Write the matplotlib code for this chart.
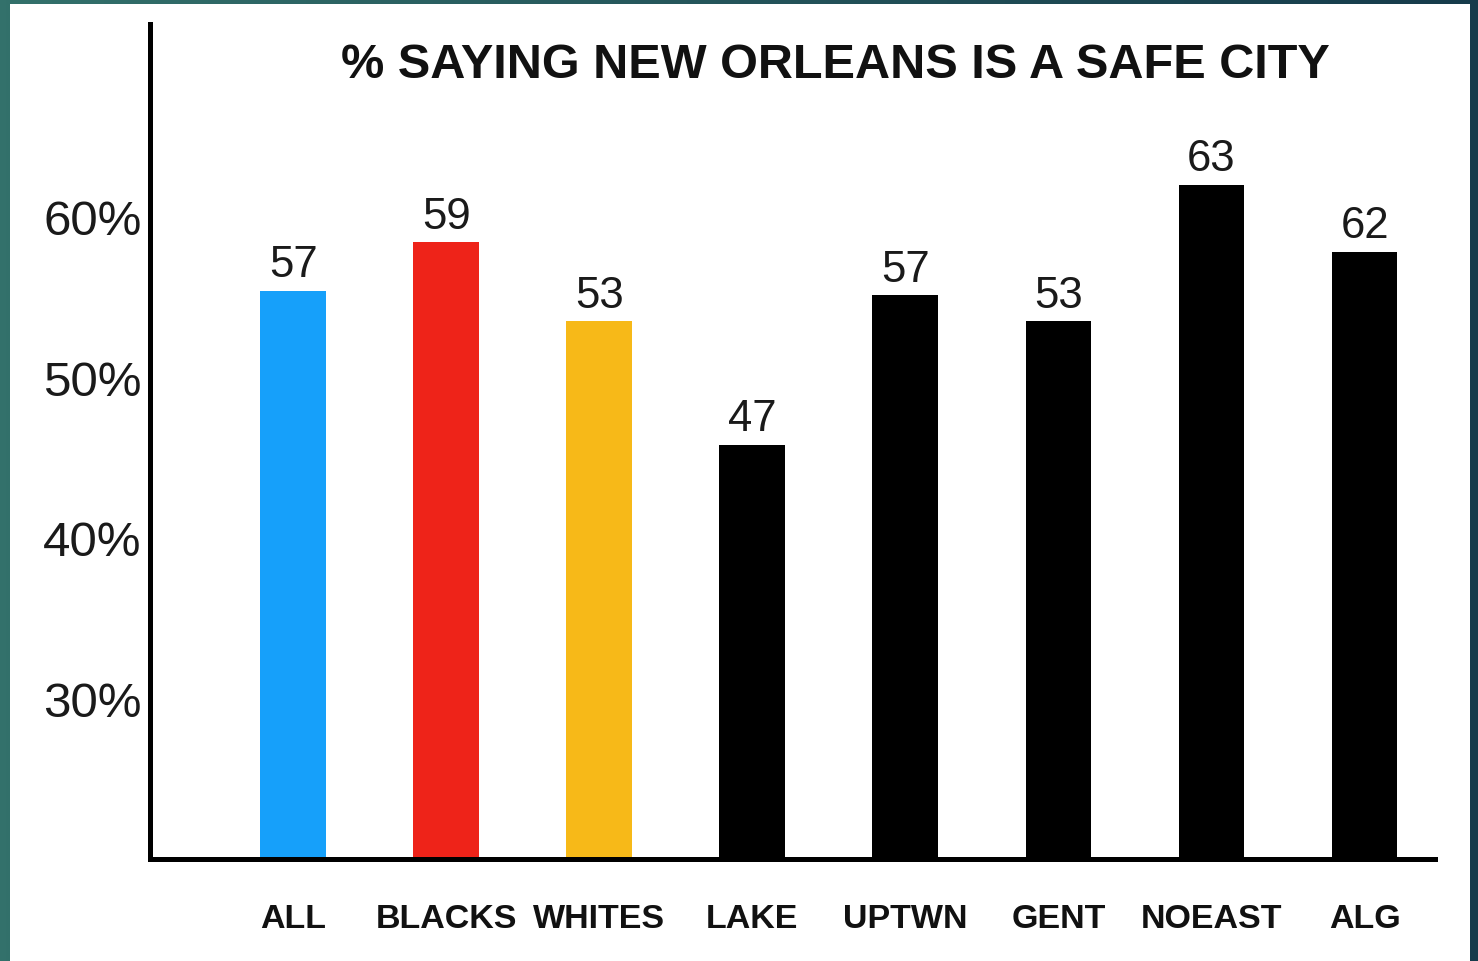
import numpy as np
import matplotlib
matplotlib.use("Agg")
import matplotlib.pyplot as plt
from matplotlib.patches import Rectangle

plt.rcParams['font.family'] = ['Liberation Sans', 'DejaVu Sans']

# data
categories = ['ALL', 'BLACKS', 'WHITES', 'LAKE', 'UPTWN', 'GENT', 'NOEAST', 'ALG']
bar_heights = [55.4, 58.4, 53.5, 45.8, 55.1, 53.5, 62.0, 57.8]   # heights as drawn
value_labels = ['57', '59', '53', '47', '57', '53', '63', '62']  # numbers printed on top
bar_colors = ['#16A0FA', '#EE2319', '#F7B918', '#000000', '#000000', '#000000', '#000000', '#000000']
y_ticks = [30, 40, 50, 60]
y_tick_labels = ['30%', '40%', '50%', '60%']
title = '% SAYING NEW ORLEANS IS A SAFE CITY'

W, H = 1478, 962
fig = plt.figure(figsize=(W / 100, H / 100), dpi=100)

# teal gradient frame behind the white slide
bg = fig.add_axes([0, 0, 1, 1], zorder=-10)
grad = np.linspace(0, 1, 256)[None, :]
cmap = matplotlib.colors.LinearSegmentedColormap.from_list('frame', ['#33716B', '#24545A', '#163B4B'])
bg.imshow(grad, cmap=cmap, aspect='auto', extent=[0, 1, 0, 1])
bg.add_patch(Rectangle((10 / W, 0), 1460 / W, 957 / H, transform=bg.transAxes,
                       facecolor='white', edgecolor='none'))
bg.set_axis_off()

ax = fig.add_axes([150 / W, 1 - 860 / H, (1435 - 150) / W, (860 - 25) / H])
ax.set_facecolor('none')

x = np.arange(len(categories))
bars = ax.bar(x, bar_heights, width=0.43, color=bar_colors)

for b, lab in zip(bars, value_labels):
    ax.annotate(lab, (b.get_x() + b.get_width() / 2, b.get_height()),
                xytext=(0, 4), textcoords='offset points',
                ha='center', va='bottom', fontsize=31.5, color='#1a1a1a')

ax.set_xlim(-0.935, 7.46)
ax.set_ylim(20, 72)

ax.set_yticks(y_ticks)
ax.set_yticklabels(y_tick_labels, fontsize=35.5, color='#1a1a1a')
ax.set_xticks(x)
ax.set_xticklabels(categories, fontsize=24.5, fontweight='bold', color='#111111')
ax.tick_params(axis='both', length=0)
ax.tick_params(axis='y', pad=6)
ax.tick_params(axis='x', pad=32)

for s in ['top', 'right']:
    ax.spines[s].set_visible(False)
for s in ['left', 'bottom']:
    ax.spines[s].set_linewidth(3.6)
    ax.spines[s].set_color('black')
    ax.spines[s].set_capstyle('projecting')

fig.text(835 / W, 1 - 66 / H, title, ha='center', va='center',
         fontsize=35, fontweight='bold', color='#111111')

fig.savefig('out.png', dpi=100)
